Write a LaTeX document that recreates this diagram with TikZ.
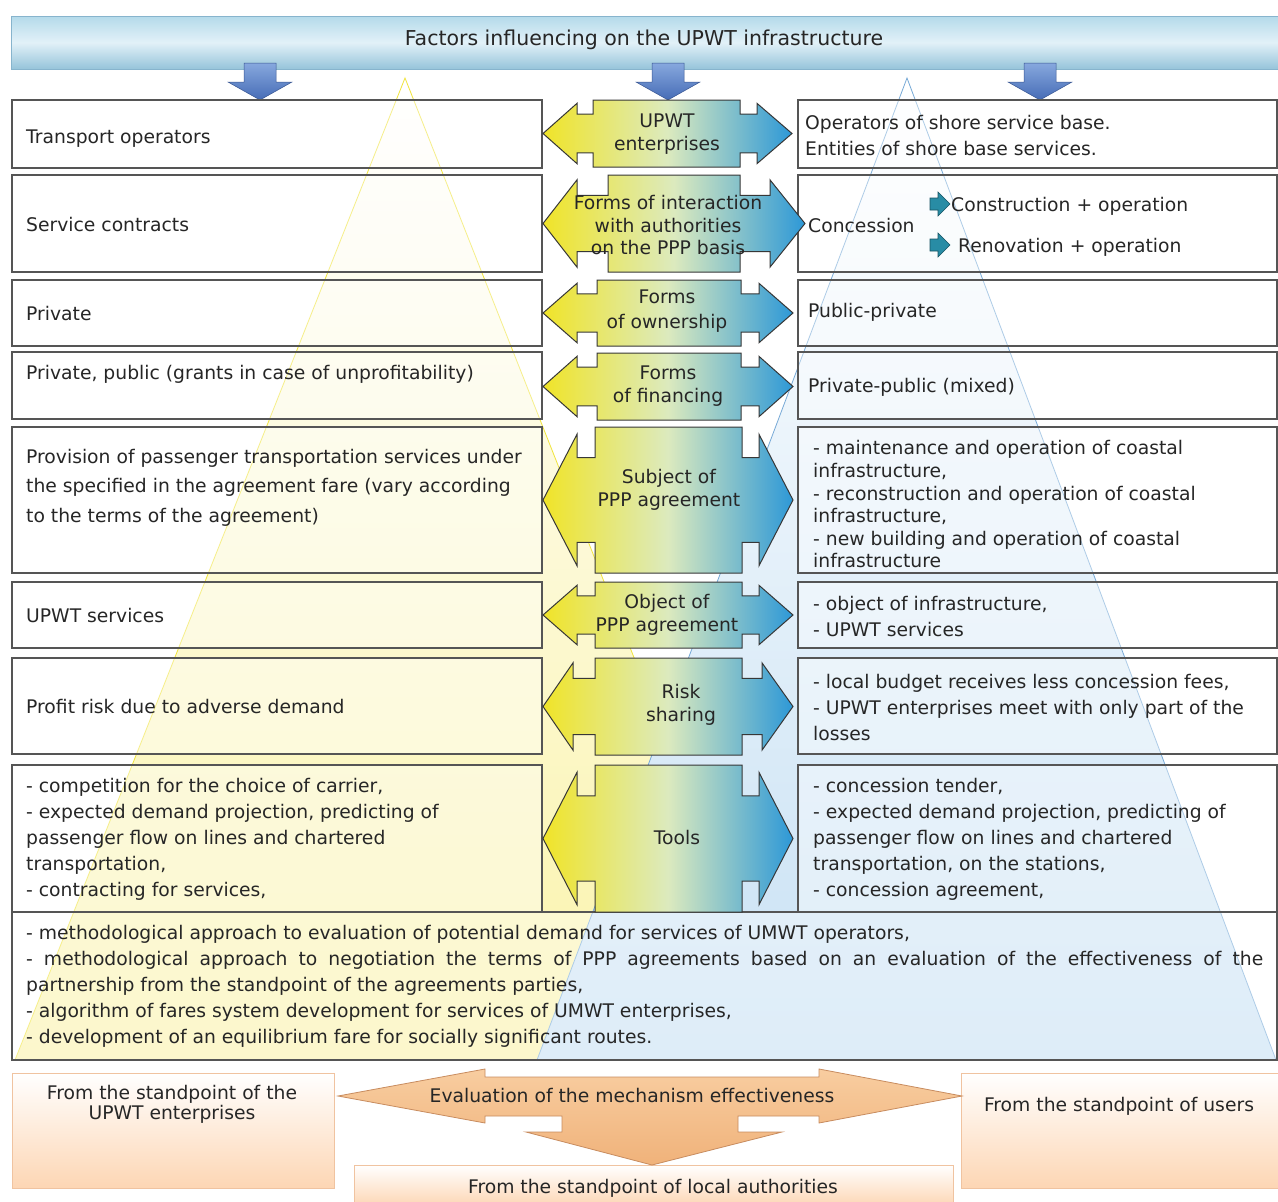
\documentclass[tikz,border=0pt]{standalone}
\usepackage{fontspec}
\setmainfont{DejaVu Sans}
\begin{document}
\definecolor{boxline}{RGB}{85,85,85}
\definecolor{ayel}{RGB}{240,228,40}
\definecolor{amid}{RGB}{220,234,190}
\definecolor{ablue}{RGB}{45,152,215}
\definecolor{arrline}{RGB}{55,55,55}
\definecolor{dnA}{RGB}{135,168,222}
\definecolor{dnB}{RGB}{70,108,182}
\definecolor{triy}{RGB}{250,243,170}
\definecolor{triyline}{RGB}{240,228,60}
\definecolor{trib}{RGB}{200,225,244}
\definecolor{tribline}{RGB}{120,170,215}
\definecolor{tealA}{RGB}{40,140,165}
\definecolor{orgA}{RGB}{248,205,160}
\definecolor{orgB}{RGB}{240,178,122}
\definecolor{orgline}{RGB}{200,140,95}
\definecolor{pbA}{RGB}{253,214,180}
\definecolor{pbline}{RGB}{240,195,160}
\definecolor{banA}{RGB}{180,218,234}
\definecolor{banM}{RGB}{226,241,248}
\definecolor{banB}{RGB}{150,196,218}
\definecolor{banline}{RGB}{135,180,205}
\newcommand\dblarr[8]{%
 \pgfmathsetmacro\hh{#2-#1}%
 \pgfmathsetmacro\na{#1+0.21*\hh}%
 \pgfmathsetmacro\nb{#2-0.21*\hh}%
 \pgfmathsetmacro\ea{#1+0.05*\hh}%
 \pgfmathsetmacro\eb{#2-0.05*\hh}%
 \pgfmathsetmacro\mm{(#1+#2)/2}%
 \shadedraw[left color=ayel, right color=ablue, middle color=amid, draw=arrline, line width=1pt, line join=miter]
 (#3,#1) -- (#4,#1) -- (#4,\na) -- (#6,\na) -- (#6,\ea) -- (#8,\mm) -- (#6,\eb) -- (#6,\nb) -- (#4,\nb) -- (#4,#2) -- (#3,#2) -- (#3,\nb) -- (#5,\nb) -- (#5,\eb) -- (#7,\mm) -- (#5,\ea) -- (#5,\na) -- (#3,\na) -- cycle;}
\newcommand\dnarr[1]{%
 \shadedraw[top color=dnA, bottom color=dnB, draw=dnB!80!black, line width=0.5pt]
 (#1-16,63) -- (#1+16,63) -- (#1+16,82) -- (#1+32,82) -- (#1,100) -- (#1-32,82) -- (#1-16,82) -- cycle;}
\newcommand\smarr[2]{%
 \filldraw[fill=tealA, draw=tealA!60!black, line width=0.6pt]
 (#1,#2-6) -- (#1+8,#2-6) -- (#1+8,#2-12) -- (#1+20,#2) -- (#1+8,#2+12) -- (#1+8,#2+6) -- (#1,#2+6) -- cycle;}
\begin{tikzpicture}[x=1pt,y=-1pt,
  txt/.style={inner sep=0pt, font=\fontsize{18.75}{26}\selectfont, text=black!85, yshift=-2.5pt},
  ltxt/.style={txt, anchor=west, align=left},
  ctxt/.style={txt, align=center},
  box/.style={draw=boxline, line width=1.2pt, fill=white, fill opacity=0.4}]
\useasboundingbox (0,0) rectangle (1278,1202);
\fill[white] (0,0) rectangle (1278,1202);
% background triangles
\shade[top color=white, bottom color=triy] (405,78) -- (15,1060) -- (793,1060) -- cycle;
\draw[triyline, line width=0.8pt] (15,1060) -- (405,78) -- (793,1060);
\shade[top color=white, bottom color=trib] (907,78) -- (537,1060) -- (1276,1060) -- cycle;
\draw[tribline, line width=0.8pt] (537,1060) -- (907,78) -- (1276,1060);
% banner
\shadedraw[top color=banA, bottom color=banB, middle color=banM, draw=banline, line width=0.8pt] (11,16) rectangle (1278,69);
\node[ctxt, font=\fontsize{20.5}{26}\selectfont] (title) at (644,37) {Factors influencing on the UPWT infrastructure};
\dnarr{260}\dnarr{668}\dnarr{1040}
% boxes
\foreach \t/\b in {100/168,175/272,280/346,352/419,427/573,582/648,658/754,765/912}{
  \draw[box] (12,\t) rectangle (542,\b);
  \draw[box] (798,\t) rectangle (1277,\b);}
\draw[box] (12,912) rectangle (1277,1060);
% central double arrows
\dblarr{100}{167}{593}{740}{577}{757}{543}{792}
\dblarr{175}{272}{608}{740}{577}{770}{543}{805}
\dblarr{280}{346}{597}{741}{577}{759}{543}{793}
\dblarr{353}{420}{597}{741}{577}{759}{543}{793}
\dblarr{427}{573}{595}{742}{577}{759}{543}{793}
\dblarr{582}{648}{595}{742}{577}{759}{543}{793}
\dblarr{658}{755}{595}{742}{573}{762}{543}{793}
\dblarr{765}{912}{595}{742}{577}{759}{543}{793}
\node[ctxt, font=\fontsize{18.75}{23}\selectfont] (a1) at (667,132) {UPWT\\enterprises};
\node[ctxt, font=\fontsize{18.75}{22.5}\selectfont] (a2) at (668,223) {Forms of interaction\\with authorities\\on the PPP basis};
\node[ctxt, font=\fontsize{18.75}{25}\selectfont] (a3) at (667,309) {Forms\\of ownership};
\node[ctxt, font=\fontsize{18.75}{23}\selectfont] (a4) at (668,384) {Forms\\of financing};
\node[ctxt, font=\fontsize{18.75}{23}\selectfont] (a5) at (669,487) {Subject of\\PPP agreement};
\node[ctxt, font=\fontsize{18.75}{23}\selectfont] (a6) at (667,612) {Object of\\PPP agreement};
\node[ctxt, font=\fontsize{18.75}{23}\selectfont] (a7) at (681,702) {Risk\\sharing};
\node[ctxt] (a8) at (677,835) {Tools};
% left texts
\node[ltxt] (l1) at (26,136) {Transport operators};
\node[ltxt] (l2) at (26,222) {Service contracts};
\node[ltxt] (l3) at (26,311) {Private};
\node[ltxt] (l4) at (26,372) {Private, public (grants in case of unprofitability)};
\node[ltxt, font=\fontsize{18.75}{29.5}\selectfont] (l5) at (26,485) {Provision of passenger transportation services under\\the specified in the agreement fare (vary according\\to the terms of the agreement)};
\node[ltxt] (l6) at (26,613) {UPWT services};
\node[ltxt] (l7) at (26,704) {Profit risk due to adverse demand};
\node[ltxt] (l8) at (26,837) {- competition for the choice of carrier,\\- expected demand projection, predicting of\\passenger flow on lines and chartered\\transportation,\\- contracting for services,};
% right texts
\node[ltxt] (r1) at (805,133) {Operators of shore service base.\\Entities of shore base services.};
\node[ltxt] (r2) at (808,223) {Concession};
\smarr{930}{204}\smarr{930}{245}
\node[ltxt] (r2a) at (951,204) {Construction + operation};
\node[ltxt] (r2b) at (958,245) {Renovation + operation};
\node[ltxt] (r3) at (808,310) {Public-private};
\node[ltxt] (r4) at (808,385) {Private-public (mixed)};
\node[ltxt, font=\fontsize{18.75}{22.6}\selectfont] (r5) at (813,502) {- maintenance and operation of coastal\\infrastructure,\\- reconstruction and operation of coastal\\infrastructure,\\- new building and operation of coastal\\infrastructure};
\node[ltxt] (r6) at (813,614) {- object of infrastructure,\\- UPWT services};
\node[ltxt] (r7) at (813,705) {- local budget receives less concession fees,\\- UPWT enterprises meet with only part of the\\losses};
\node[ltxt] (r8) at (813,837) {- concession tender,\\- expected demand projection, predicting of\\passenger flow on lines and chartered\\transportation, on the stations,\\- concession agreement,};
% bottom wide box text
\node[ltxt] (w) at (26,984) {- methodological approach to evaluation of potential demand for services of UMWT operators,\\\makebox[1237pt][s]{- methodological approach to negotiation the terms of PPP agreements based on an evaluation of the effectiveness of the}\\partnership from the standpoint of the agreements parties,\\- algorithm of fares system development for services of UMWT enterprises,\\- development of an equilibrium fare for socially significant routes.};
% bottom evaluation
\shadedraw[top color=white, bottom color=pbA, draw=pbline, line width=0.8pt] (12,1073) rectangle (334,1188);
\shadedraw[top color=white, bottom color=pbA, draw=pbline, line width=0.8pt] (961,1073) rectangle (1278,1188);
\shadedraw[top color=white, bottom color=pbA, draw=pbline, line width=0.8pt] (354,1165) rectangle (953,1206);
\shadedraw[top color=orgA, bottom color=orgB, draw=orgline, line width=0.8pt, line join=miter]
 (338,1096) -- (485,1069) -- (485,1077) -- (819,1077) -- (819,1069) -- (962,1096) -- (819,1123) -- (819,1116) -- (738,1116) -- (738,1132) -- (782,1132) -- (652,1165) -- (526,1132) -- (562,1132) -- (562,1116) -- (485,1116) -- (485,1123) -- cycle;
\node[ctxt, font=\fontsize{18.75}{20}\selectfont] (p1) at (172,1102) {From the standpoint of the\\UPWT enterprises};
\node[ctxt] (p2) at (632,1093) {Evaluation of the mechanism effectiveness};
\node[ctxt] (p3) at (1119,1104) {From the standpoint of users};
\node[ctxt] (p4) at (653,1186) {From the standpoint of local authorities};
\end{tikzpicture}
\end{document}
